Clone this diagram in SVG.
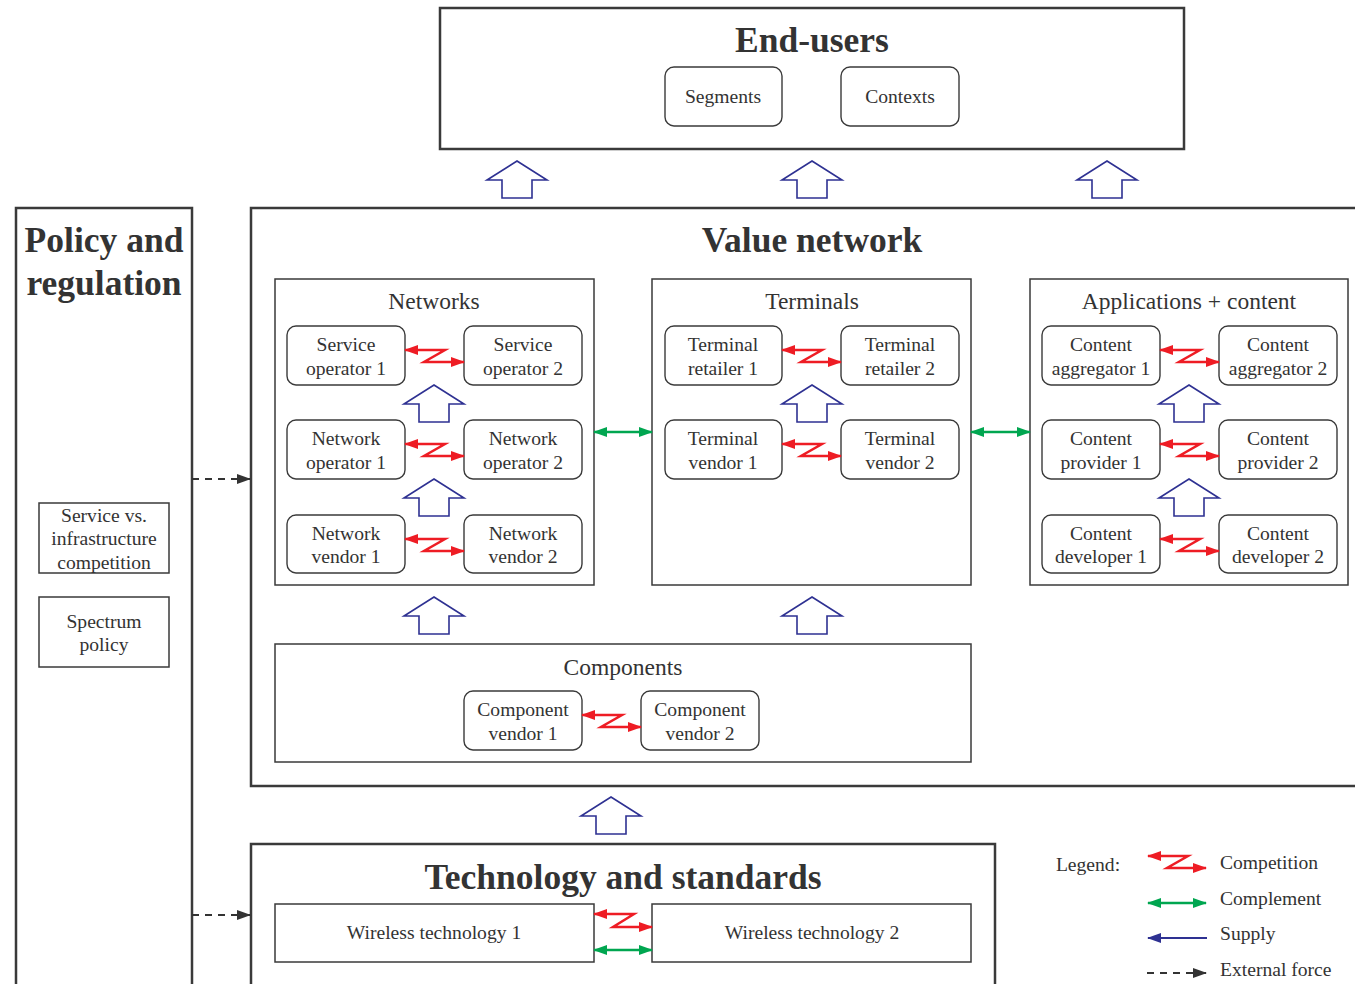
<svg xmlns="http://www.w3.org/2000/svg" width="1355" height="984" viewBox="0 0 1355 984">
<style>
text{font-family:"Liberation Serif","Times New Roman",serif;fill:#333;text-anchor:middle}
.big{font-size:35.5px;font-weight:bold}
.cat{font-size:23.5px}
.n{font-size:19.6px}
.outer{fill:none;stroke:#3a3a3a;stroke-width:2.5}
.grp{fill:none;stroke:#3a3a3a;stroke-width:1.5}
.node{fill:#fff;stroke:#3a3a3a;stroke-width:1.4}
.comp{fill:none;stroke:#ee1c24;stroke-width:2.5;marker-start:url(#rh);marker-end:url(#rh)}
.cpl{fill:none;stroke:#00a650;stroke-width:2.5;marker-start:url(#gh);marker-end:url(#gh)}
.sup{fill:#fff;stroke:#2e3192;stroke-width:1.6}
.ext{fill:none;stroke:#333;stroke-width:2;stroke-dasharray:7,6;marker-end:url(#kh)}
</style>
<defs>
<marker id="rh" viewBox="0 0 14 10" refX="13" refY="5" markerWidth="14" markerHeight="10" markerUnits="userSpaceOnUse" orient="auto-start-reverse"><path d="M0,0 L14,5 L0,10 z" fill="#ee1c24"/></marker>
<marker id="gh" viewBox="0 0 14 10" refX="13" refY="5" markerWidth="14" markerHeight="10" markerUnits="userSpaceOnUse" orient="auto-start-reverse"><path d="M0,0 L14,5 L0,10 z" fill="#00a650"/></marker>
<marker id="bh" viewBox="0 0 14 10" refX="13" refY="5" markerWidth="14" markerHeight="10" markerUnits="userSpaceOnUse" orient="auto-start-reverse"><path d="M0,0 L14,5 L0,10 z" fill="#2e3192"/></marker>
<marker id="kh" viewBox="0 0 14 10" refX="13" refY="5" markerWidth="14" markerHeight="10" markerUnits="userSpaceOnUse" orient="auto"><path d="M0,0 L14,5 L0,10 z" fill="#333"/></marker>
<path id="up" d="M0,0 L30,19 L15,19 L15,37 L-15,37 L-15,19 L-30,19 z"/>
</defs>
<rect width="1355" height="984" fill="#fff"/>

<g id="end-users">
<rect class="outer" x="440" y="8" width="744" height="141"/>
<text class="big" x="812" y="52">End-users</text>
</g>
<g id="segments"><rect class="node" x="665" y="67" width="117" height="59" rx="9"/><text class="n" x="723" y="103">Segments</text></g>
<g id="contexts"><rect class="node" x="841" y="67" width="118" height="59" rx="9"/><text class="n" x="900" y="103">Contexts</text></g>

<g id="policy">
<rect class="outer" x="16" y="208" width="176" height="790"/>
<text class="big" x="104" y="252">Policy and</text>
<text class="big" x="104" y="295">regulation</text>
</g>
<g id="service-vs"><rect class="grp" x="39" y="503" width="130" height="70"/><text class="n" x="104" y="522">Service vs.</text><text class="n" x="104" y="545">infrastructure</text><text class="n" x="104" y="569">competition</text></g>
<g id="spectrum"><rect class="grp" x="39" y="597" width="130" height="70"/><text class="n" x="104" y="628">Spectrum</text><text class="n" x="104" y="651">policy</text></g>

<g id="value-network">
<rect class="outer" x="251" y="208" width="1120" height="578"/>
<text class="big" x="812" y="252">Value network</text>
</g>

<g id="networks"><rect class="grp" x="275" y="279" width="319" height="306"/><text class="cat" x="434" y="309">Networks</text></g>
<g id="terminals"><rect class="grp" x="652" y="279" width="319" height="306"/><text class="cat" x="812" y="309">Terminals</text></g>
<g id="apps"><rect class="grp" x="1030" y="279" width="318" height="306"/><text class="cat" x="1189" y="309">Applications + content</text></g>

<g id="so1"><rect class="node" x="287" y="326" width="118" height="59" rx="9"/><text class="n" x="346" y="351">Service</text><text class="n" x="346" y="375">operator 1</text></g>
<g id="so2"><rect class="node" x="464" y="326" width="118" height="59" rx="9"/><text class="n" x="523" y="351">Service</text><text class="n" x="523" y="375">operator 2</text></g>
<g id="no1"><rect class="node" x="287" y="420" width="118" height="59" rx="9"/><text class="n" x="346" y="445">Network</text><text class="n" x="346" y="469">operator 1</text></g>
<g id="no2"><rect class="node" x="464" y="420" width="118" height="59" rx="9"/><text class="n" x="523" y="445">Network</text><text class="n" x="523" y="469">operator 2</text></g>
<g id="nv1"><rect class="node" x="287" y="515" width="118" height="58" rx="9"/><text class="n" x="346" y="540">Network</text><text class="n" x="346" y="563">vendor 1</text></g>
<g id="nv2"><rect class="node" x="464" y="515" width="118" height="58" rx="9"/><text class="n" x="523" y="540">Network</text><text class="n" x="523" y="563">vendor 2</text></g>

<g id="tr1"><rect class="node" x="665" y="326" width="117" height="59" rx="9"/><text class="n" x="723" y="351">Terminal</text><text class="n" x="723" y="375">retailer 1</text></g>
<g id="tr2"><rect class="node" x="841" y="326" width="118" height="59" rx="9"/><text class="n" x="900" y="351">Terminal</text><text class="n" x="900" y="375">retailer 2</text></g>
<g id="tv1"><rect class="node" x="665" y="420" width="117" height="59" rx="9"/><text class="n" x="723" y="445">Terminal</text><text class="n" x="723" y="469">vendor 1</text></g>
<g id="tv2"><rect class="node" x="841" y="420" width="118" height="59" rx="9"/><text class="n" x="900" y="445">Terminal</text><text class="n" x="900" y="469">vendor 2</text></g>

<g id="ca1"><rect class="node" x="1042" y="326" width="118" height="59" rx="9"/><text class="n" x="1101" y="351">Content</text><text class="n" x="1101" y="375">aggregator 1</text></g>
<g id="ca2"><rect class="node" x="1219" y="326" width="118" height="59" rx="9"/><text class="n" x="1278" y="351">Content</text><text class="n" x="1278" y="375">aggregator 2</text></g>
<g id="cp1"><rect class="node" x="1042" y="420" width="118" height="59" rx="9"/><text class="n" x="1101" y="445">Content</text><text class="n" x="1101" y="469">provider 1</text></g>
<g id="cp2"><rect class="node" x="1219" y="420" width="118" height="59" rx="9"/><text class="n" x="1278" y="445">Content</text><text class="n" x="1278" y="469">provider 2</text></g>
<g id="cd1"><rect class="node" x="1042" y="515" width="118" height="58" rx="9"/><text class="n" x="1101" y="540">Content</text><text class="n" x="1101" y="563">developer 1</text></g>
<g id="cd2"><rect class="node" x="1219" y="515" width="118" height="58" rx="9"/><text class="n" x="1278" y="540">Content</text><text class="n" x="1278" y="563">developer 2</text></g>

<g id="components"><rect class="grp" x="275" y="644" width="696" height="118"/><text class="cat" x="623" y="675">Components</text></g>
<g id="cv1"><rect class="node" x="464" y="691" width="118" height="59" rx="9"/><text class="n" x="523" y="716">Component</text><text class="n" x="523" y="740">vendor 1</text></g>
<g id="cv2"><rect class="node" x="641" y="691" width="118" height="59" rx="9"/><text class="n" x="700" y="716">Component</text><text class="n" x="700" y="740">vendor 2</text></g>

<g id="tech">
<rect class="outer" x="251" y="844" width="744" height="160"/>
<text class="big" x="623" y="889">Technology and standards</text>
</g>
<g id="wt1"><rect class="grp" x="275" y="904" width="319" height="58"/><text class="n" x="434" y="939">Wireless technology 1</text></g>
<g id="wt2"><rect class="grp" x="652" y="904" width="319" height="58"/><text class="n" x="812" y="939">Wireless technology 2</text></g>

<g id="connectors">
<use href="#up" class="sup" x="517" y="161"/>
<use href="#up" class="sup" x="812" y="161"/>
<use href="#up" class="sup" x="1107" y="161"/>
<use href="#up" class="sup" x="434" y="385"/>
<use href="#up" class="sup" x="434" y="479"/>
<use href="#up" class="sup" x="812" y="385"/>
<use href="#up" class="sup" x="1189" y="385"/>
<use href="#up" class="sup" x="1189" y="479"/>
<use href="#up" class="sup" x="434" y="597"/>
<use href="#up" class="sup" x="812" y="597"/>
<use href="#up" class="sup" x="611" y="797"/>

<path class="comp" d="M405,350 L445,350 L424,362 L464,362"/>
<path class="comp" d="M405,444 L445,444 L424,456 L464,456"/>
<path class="comp" d="M405,539 L445,539 L424,551 L464,551"/>
<path class="comp" d="M782,350 L822,350 L801,362 L841,362"/>
<path class="comp" d="M782,444 L822,444 L801,456 L841,456"/>
<path class="comp" d="M1160,350 L1200,350 L1179,362 L1219,362"/>
<path class="comp" d="M1160,444 L1200,444 L1179,456 L1219,456"/>
<path class="comp" d="M1160,539 L1200,539 L1179,551 L1219,551"/>
<path class="comp" d="M582,715 L622,715 L601,727 L641,727"/>
<path class="comp" d="M594,914 L634,914 L613,927 L652,927"/>

<path class="cpl" d="M594,432 L652,432"/>
<path class="cpl" d="M971,432 L1030,432"/>
<path class="cpl" d="M594,950 L652,950"/>

<path class="ext" d="M192,479 L250,479"/>
<path class="ext" d="M192,915 L250,915"/>
</g>

<g id="legend">
<text class="n" x="1088" y="871">Legend:</text>
<path class="comp" d="M1148,856 L1188,856 L1167,868 L1206,868"/>
<text class="n" x="1220" y="869" style="text-anchor:start">Competition</text>
<path class="cpl" d="M1148,903 L1206,903"/>
<text class="n" x="1220" y="905" style="text-anchor:start">Complement</text>
<path d="M1148,938 L1207,938" fill="none" stroke="#2e3192" stroke-width="2" marker-start="url(#bh)"/>
<text class="n" x="1220" y="940" style="text-anchor:start">Supply</text>
<path class="ext" d="M1147,973 L1206,973"/>
<text class="n" x="1220" y="976" style="text-anchor:start">External force</text>
</g>
</svg>
